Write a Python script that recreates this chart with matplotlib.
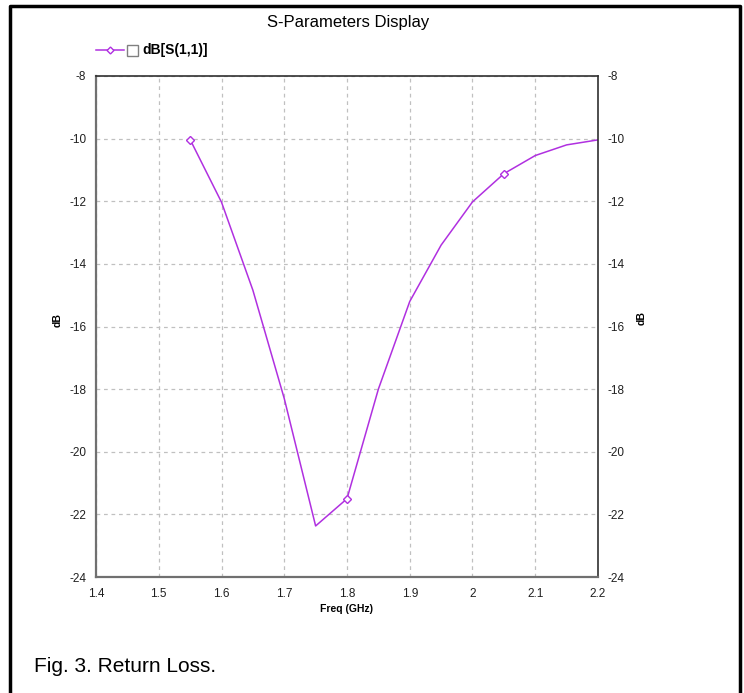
import numpy as np
import matplotlib
matplotlib.use("Agg")
import matplotlib.pyplot as plt
from matplotlib.lines import Line2D
from matplotlib.patches import Rectangle

plt.rcParams['font.family'] = ['Liberation Sans', 'DejaVu Sans']
plt.rcParams['axes.unicode_minus'] = False

# S11
freq = [1.55, 1.6, 1.65, 1.7, 1.75, 1.8, 1.85, 1.9, 1.95, 2.0, 2.05, 2.1, 2.15, 2.2]
s11_db = [-10.03, -12.03, -14.84, -18.3, -22.37, -21.5, -18.0, -15.2, -13.4, -12.02, -11.12, -10.54, -10.2, -10.04]
marker_freq = [1.55, 1.8, 2.05]
xticks = [1.4, 1.5, 1.6, 1.7, 1.8, 1.9, 2.0, 2.1, 2.2]
xtick_labels = ['1.4', '1.5', '1.6', '1.7', '1.8', '1.9', '2', '2.1', '2.2']
yticks = [-24, -22, -20, -18, -16, -14, -12, -10, -8]

line_col = '#b030e0'
W, H = 744, 693

fig = plt.figure(figsize=(W / 100, H / 100), dpi=100)
ax = fig.add_axes([96 / W, 1 - 577 / H, (598 - 96) / W, (577 - 76) / H])

ax.plot(freq, s11_db, color=line_col, lw=1.1)
mi = [freq.index(f) for f in marker_freq]
ax.plot([freq[i] for i in mi], [s11_db[i] for i in mi], ls='none', marker='D',
        ms=4, mfc='white', mec=line_col, mew=1)

ax.set_xlim(1.4, 2.2)
ax.set_ylim(-24, -8)
ax.set_xticks(xticks)
ax.set_xticklabels(xtick_labels)
ax.set_yticks(yticks)
ax.grid(True, ls=(0, (3, 3)), color='#c0c0c0', lw=0.9)
ax.tick_params(length=0, labelsize=8.5, colors='#202020', pad=8)
ax.tick_params(axis='y', labelright=True, pad=7)
for s in ['left', 'bottom']:
    ax.spines[s].set_color('#707070')
    ax.spines[s].set_linewidth(1.6)
for s in ['top', 'right']:
    ax.spines[s].set_color('#303030')
    ax.spines[s].set_linewidth(1.2)

ax.set_xlabel('Freq (GHz)', fontsize=7.5, fontweight='bold', labelpad=3)
fig.text(58 / W, 1 - 320 / H, 'dB', fontsize=7.5, fontweight='bold',
         rotation=90, ha='center', va='center')
fig.text(642 / W, 1 - 318 / H, 'dB', fontsize=7.5, fontweight='bold',
         rotation=90, ha='center', va='center')

fig.text(348 / W, 1 - 23 / H, 'S-Parameters Display', fontsize=12,
         ha='center', va='center')

# legend drawn by hand
ly = 1 - 50 / H
fig.add_artist(Line2D([96 / W, 124 / W], [ly, ly], color=line_col, lw=1.1))
fig.add_artist(Line2D([110 / W], [ly], marker='D', ms=3.5, mfc='white',
                      mec=line_col, mew=1, ls='none'))
fig.add_artist(Rectangle((127 / W, 1 - 56 / H), 11 / W, 11 / H, fill=False,
                         ec='#808080', lw=1))
fig.text(142 / W, ly, 'dB[S(1,1)]', fontsize=10, fontweight='bold', va='center')

fig.text(34 / W, 1 - 666 / H, 'Fig. 3. Return Loss.', fontsize=15, va='center')

# outer frame
fig.add_artist(Line2D([10 / W, 10 / W, 740 / W, 740 / W],
                      [0, 1 - 6 / H, 1 - 6 / H, 0], color='black', lw=2.5))

plt.savefig('out.png', dpi=100)
